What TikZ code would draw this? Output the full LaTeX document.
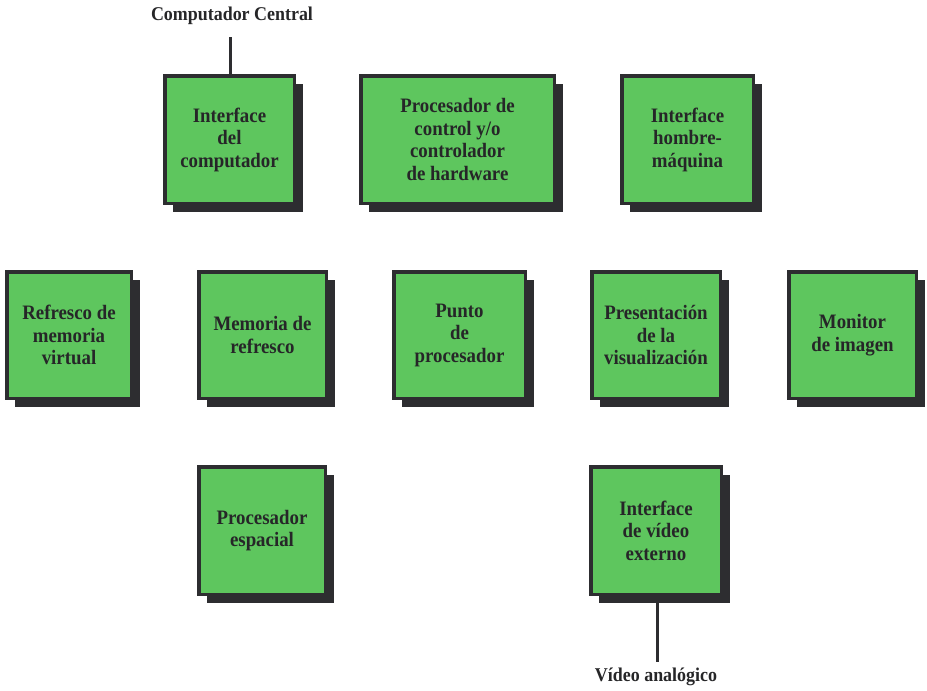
\documentclass[tikz,border=0pt]{standalone}
\usepackage{fontspec}
\setmainfont{Liberation Serif}[FakeStretch=0.92]
\usetikzlibrary{shadows}
\definecolor{boxgreen}{RGB}{94,198,94}
\definecolor{darkline}{RGB}{45,45,48}
\definecolor{inkcol}{RGB}{38,38,40}
\tikzset{
  blockbox/.style={draw=darkline, line width=3.5pt, fill=boxgreen,
    drop shadow={shadow xshift=8.5pt, shadow yshift=-8.5pt, fill=darkline, opacity=1},
    align=center, text=inkcol, inner sep=2pt,
    font=\fontsize{20.5}{22.5}\selectfont\bfseries},
  extlabel/.style={text=inkcol, inner sep=0pt, font=\fontsize{19.5}{22}\selectfont\bfseries},
  wire/.style={draw=darkline, line width=3pt}
}
\begin{document}
\begin{tikzpicture}[x=1pt,y=-1pt]
\useasboundingbox (0,0) rectangle (927,691);
% row 1
\node[blockbox, minimum width=129.5pt, minimum height=127.5pt] (comp) at (229.5,139.5) {Interface\\del\\computador};
\node[blockbox, minimum width=193.5pt, minimum height=127.5pt] (proc) at (457.5,139.5) {Procesador de\\control y/o\\controlador\\de hardware};
\node[blockbox, minimum width=131.5pt, minimum height=127.5pt] (hm) at (687.5,139.5) {Interface\\hombre-\\máquina};
% row 2
\node[blockbox, minimum width=124.5pt, minimum height=126.5pt] (refv) at (69,335) {Refresco de\\memoria\\virtual};
\node[blockbox, minimum width=127.5pt, minimum height=126.5pt] (mem) at (262.5,335) {Memoria de\\refresco};
\node[blockbox, minimum width=131.5pt, minimum height=126.5pt] (punto) at (459.5,335) {Punto\\de\\procesador};
\node[blockbox, minimum width=128.5pt, minimum height=126.5pt] (pres) at (656,335) {Presentación\\de la\\visualización};
\node[blockbox, minimum width=127.5pt, minimum height=126.5pt] (mon) at (852.5,335) {Monitor\\de imagen};
% row 3
\node[blockbox, minimum width=126.5pt, minimum height=127.5pt] (esp) at (262,530.5) {Procesador\\espacial};
\node[blockbox, minimum width=130.5pt, minimum height=127.5pt] (vid) at (656,530.5) {Interface\\de vídeo\\externo};
% external labels
\node[extlabel] (cc) at (232,16) {Computador Central};
\node[extlabel] (va) at (656,677) {Vídeo analógico};
\coordinate (cctop) at (230,37);
\coordinate (vabot) at (657,662);
\draw[wire] (cctop) -- (cctop |- comp.north);
\draw[wire] (vabot |- vid.south) -- (vabot);
\end{tikzpicture}
\end{document}
